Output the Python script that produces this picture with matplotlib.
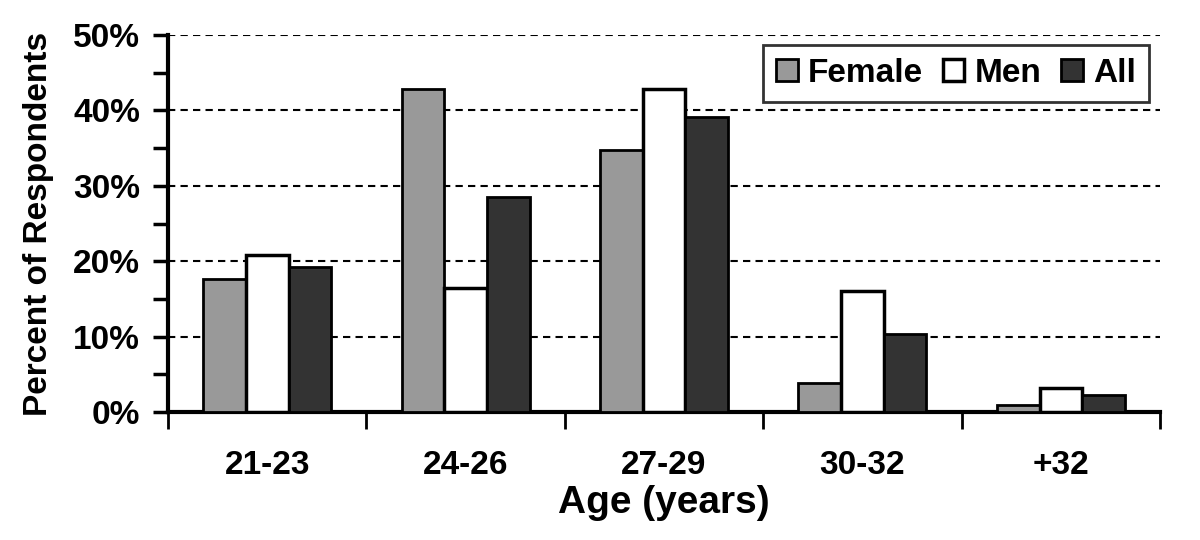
import matplotlib
matplotlib.use("Agg")
import matplotlib.pyplot as plt
import numpy as np
from matplotlib.ticker import MultipleLocator, FuncFormatter

categories = ["21-23", "24-26", "27-29", "30-32", "+32"]
female = [17.6, 42.8, 34.8, 3.9, 0.9]
men = [20.8, 16.5, 42.8, 16.0, 3.2]
all_ = [19.2, 28.5, 39.2, 10.4, 2.3]

plt.rcParams['font.family'] = ['Liberation Sans', 'DejaVu Sans']
plt.rcParams['font.weight'] = 'bold'

fig = plt.figure(figsize=(12, 5.4), dpi=100)
ax = fig.add_axes([0.14, 0.237, 0.8267, 0.698])

x = np.arange(len(categories))
w = 0.215
ax.bar(x - w, female, w, color="#999999", edgecolor="black", linewidth=2, label="Female", zorder=3)
ax.bar(x, men, w, color="white", edgecolor="black", linewidth=2.5, label="Men", zorder=3)
ax.bar(x + w, all_, w, color="#333333", edgecolor="black", linewidth=2, label="All", zorder=3)

ax.set_xlim(-0.5, len(categories) - 0.5)
ax.set_ylim(0, 50)
ax.yaxis.set_major_locator(MultipleLocator(10))
ax.yaxis.set_minor_locator(MultipleLocator(5))
ax.yaxis.set_major_formatter(FuncFormatter(lambda v, p: f"{int(v)}%"))
ax.yaxis.grid(True, which='major', linestyle=(0, (3.5, 2.5)), color='black', linewidth=1.5, zorder=0)

ax.set_xticks(x)
ax.set_xticklabels(categories, fontsize=24, fontweight='bold')
ax.tick_params(axis='x', which='major', length=0, pad=27)
ax.set_xticks(np.arange(-0.5, len(categories) + 0.5, 1), minor=True)
ax.tick_params(axis='x', which='minor', length=12, width=2, direction='out')
ax.tick_params(axis='y', which='both', length=11, width=2.5, direction='out', labelsize=24, pad=9)
for lbl in ax.get_yticklabels():
    lbl.set_fontweight('bold')

for s in ['top', 'right']:
    ax.spines[s].set_visible(False)
ax.spines['left'].set_linewidth(3)
ax.spines['bottom'].set_linewidth(3)

ax.set_ylabel("Percent of Respondents", fontsize=24, fontweight='bold', labelpad=14)
ax.set_xlabel("Age (years)", fontsize=28, fontweight='bold', labelpad=3)

leg = ax.legend(loc='upper right', ncol=3, fontsize=24, frameon=True, fancybox=False,
                edgecolor='black', handlelength=0.65, handleheight=0.65, handletextpad=0.3,
                columnspacing=0.6, borderpad=0.4, borderaxespad=0.0,
                bbox_to_anchor=(0.989, 0.975))
leg.get_frame().set_linewidth(2)
for t in leg.get_texts():
    t.set_fontweight('bold')

fig.savefig("out.png", dpi=100)
